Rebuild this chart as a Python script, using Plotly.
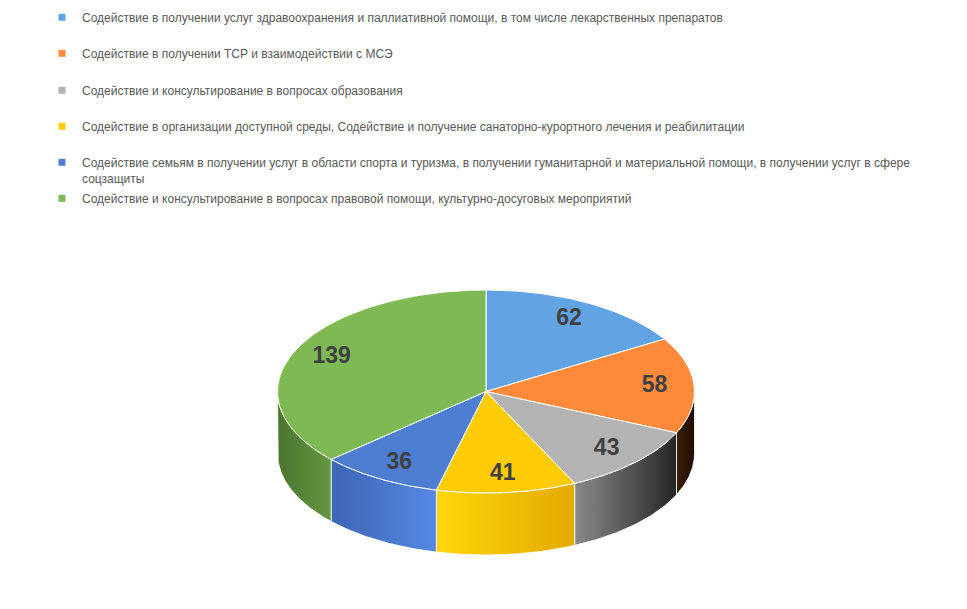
import numpy as np
import plotly.graph_objects as go

labels = [
    'Содействие в получении услуг здравоохранения и паллиативной помощи, в том числе лекарственных препаратов',
    'Содействие в получении ТСР и взаимодействии с МСЭ',
    'Содействие и консультирование в вопросах образования',
    'Содействие в организации доступной среды, Содействие и получение санаторно-курортного лечения и реабилитации',
    'Содействие семьям в получении услуг в области спорта и туризма, в получении гуманитарной и материальной помощи, в получении услуг в сфере<br>соцзащиты',
    'Содействие и консультирование в вопросах правовой помощи, культурно-досуговых мероприятий',
]
values = [62, 58, 43, 41, 36, 139]

top_colors = ['#62a4e3', '#ff8a3b', '#b3b3b3', '#ffcb05', '#4d7ed2', '#7eb954']
wall_left = ['#4f86bd', '#3a1e0a', '#8a8a8a', '#ffd60a', '#3d66b3', '#4c7530']
wall_right = ['#3d6b99', '#1f0e03', '#262626', '#e2a900', '#5688e4', '#64963f']

# page offset of the plot div (body margin) and geometry of the tilted disc, in page pixels
OFF = 8
CX, CY, RX, RY, DEPTH = 486, 391.5, 208.5, 101.5, 62
legend_rows = [17, 53, 90, 126, 162, 198]


def rim(theta, drop=0.0):
    return CX + RX * np.sin(theta), CY - RY * np.cos(theta) + drop


total = sum(values)
edges = np.cumsum([0] + values) / total * 2 * np.pi

fig = go.Figure()

# side walls (front half only)
for i in range(len(values)):
    lo = max(edges[i], np.pi / 2)
    hi = min(edges[i + 1], 3 * np.pi / 2)
    if lo >= hi:
        continue
    t = np.linspace(lo, hi, 80)
    xt, yt = rim(t)
    xb, yb = rim(t[::-1], DEPTH)
    fig.add_trace(go.Scatter(
        x=np.concatenate([xt, xb, xt[:1]]), y=np.concatenate([yt, yb, yt[:1]]),
        mode='lines', fill='toself', line=dict(color='white', width=0.8),
        fillgradient=dict(type='horizontal', colorscale=[[0, wall_left[i]], [1, wall_right[i]]]),
        hoverinfo='skip', showlegend=False,
    ))

# top face
for i in range(len(values)):
    t = np.linspace(edges[i], edges[i + 1], 120)
    xs, ys = rim(t)
    fig.add_trace(go.Scatter(
        x=np.concatenate([[CX], xs, [CX]]), y=np.concatenate([[CY], ys, [CY]]),
        mode='lines', fill='toself', fillcolor=top_colors[i],
        line=dict(color='white', width=1),
        hoverinfo='skip', showlegend=False,
    ))

mid = (edges[:-1] + edges[1:]) / 2
lx = CX + 0.81 * RX * np.sin(mid)
ly = CY - 0.82 * RY * np.cos(mid)
fig.add_trace(go.Scatter(
    x=lx, y=ly, mode='text', text=[str(v) for v in values],
    textfont=dict(family='Liberation Sans, Arial, sans-serif', size=23, color='#404040', weight='bold'),
    hoverinfo='skip', showlegend=False,
))

# legend entries
for i, name in enumerate(labels):
    key = 'legend' if i == 0 else f'legend{i + 1}'
    fig.add_trace(go.Scatter(
        x=[None], y=[None], mode='markers', name=name,
        marker=dict(symbol='square', size=7, color=top_colors[i]),
        legend=key,
    ))
    fig.update_layout({key: dict(
        x=(42 - OFF) / 967, xanchor='left',
        y=1 - (legend_rows[i] - 14 - OFF) / 609, yanchor='top',
        valign='top', bgcolor='rgba(0,0,0,0)', borderwidth=0,
        font=dict(family='Liberation Sans, Arial, sans-serif', size=12, color='#595959'),
        itemclick=False, itemdoubleclick=False,
    )})

fig.update_layout(
    width=967, height=609,
    margin=dict(l=0, r=0, t=0, b=0, autoexpand=False),
    paper_bgcolor='white', plot_bgcolor='white',
    xaxis=dict(range=[OFF, 967 + OFF], visible=False, fixedrange=True),
    yaxis=dict(range=[609 + OFF, OFF], visible=False, fixedrange=True),
    showlegend=True,
)

fig.write_html('out.html')
